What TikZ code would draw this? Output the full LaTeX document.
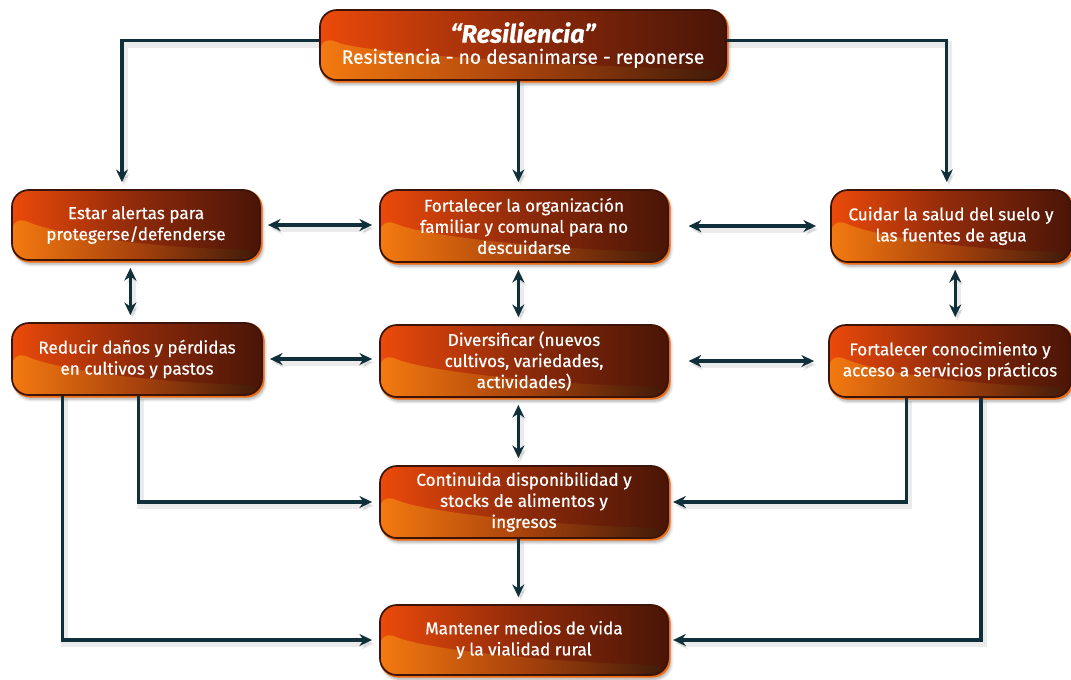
\documentclass[tikz,border=0pt]{standalone}
\usepackage{fontspec}
\setmainfont{Fira Sans}[FakeBold=0.5]
\usetikzlibrary{arrows.meta,shadows.blur}

\definecolor{boxleft}{HTML}{EC4A0A}
\definecolor{boxmid}{HTML}{8E2A0A}
\definecolor{boxright}{HTML}{4A1507}
\definecolor{waveleft}{HTML}{F47A10}
\definecolor{wavemid}{HTML}{A8420C}
\definecolor{waveright}{HTML}{3E1A09}
\definecolor{rimdark}{HTML}{3A1408}
\definecolor{rimorange}{HTML}{F26C12}
\definecolor{linecol}{HTML}{0F2F3B}

\tikzset{
    box/.style={rounded corners=12pt, minimum height=1.8cm, align=center, text=white,
        font=\fontsize{12.2}{15}\selectfont,
        left color=boxleft, right color=boxright, middle color=boxmid,
        draw=rimdark, line width=1.2pt,
        blur shadow={shadow xshift=2pt, shadow yshift=-3pt, shadow opacity=35, shadow blur steps=6},
        preaction={draw=rimorange, line width=2pt, transform canvas={shift={(0.8pt,-0.8pt)}}},
        path picture={
            \shade[left color=waveleft, right color=waveright, middle color=wavemid]
                ([yshift=1.13cm]path picture bounding box.south west)
                .. controls ([xshift=1.2cm,yshift=0.6cm]path picture bounding box.south west)
                and ([xshift=-2.5cm,yshift=0.3cm]path picture bounding box.south east)
                .. ([yshift=0.25cm]path picture bounding box.south east)
                -- (path picture bounding box.south east)
                -- (path picture bounding box.south west) -- cycle;
        }},
    conn/.style={draw=linecol, line width=2.3pt, -{Stealth[length=9pt,width=8.5pt]},
        preaction={draw=black, opacity=0.08, line width=5pt, transform canvas={shift={(1.5pt,-2.5pt)}}}},
    both/.style={conn, {Stealth[length=9pt,width=8.5pt]}-{Stealth[length=9pt,width=8.5pt]},
        shorten <=5pt, shorten >=5pt},
}

\begin{document}
\begin{tikzpicture}[x=0.025cm, y=-0.025cm]
    \useasboundingbox (0,0) rectangle (1071,679);

    % Top
    \node[box, minimum width=10.15cm, minimum height=1.75cm] (top) at (523,45)
        {{\fontsize{18}{19}\selectfont\bfseries\itshape “Resiliencia”}\\
         {\fontsize{13.7}{16}\selectfont Resistencia - no desanimarse - reponerse}};

    % Row 1
    \node[box, minimum width=6.2cm, minimum height=1.75cm] (est) at (136,225)
        {Estar alertas para\\protegerse/defenderse};
    \node[box, minimum width=7.2cm] (fort) at (524,226)
        {Fortalecer la organización\\familiar y comunal para no\\descuidarse};
    \node[box, minimum width=6.0cm] (cui) at (951,226)
        {Cuidar la salud del suelo y\\las fuentes de agua};

    % Row 2
    \node[box, minimum width=6.25cm] (red) at (137,359)
        {Reducir daños y pérdidas\\en cultivos y pastos};
    \node[box, minimum width=7.2cm] (div) at (524,361)
        {Diversificar (nuevos\\cultivos, variedades,\\actividades)};
    \node[box, minimum width=6.05cm] (con) at (950,361)
        {Fortalecer conocimiento y\\acceso a servicios prácticos};

    % Bottom
    \node[box, minimum width=7.2cm] (cont) at (524,502)
        {Continuida disponibilidad y\\stocks de alimentos y\\ingresos};
    \node[box, minimum width=7.2cm, minimum height=1.75cm] (man) at (524,640)
        {Mantener medios de vida\\y la vialidad rural};

    % From the top
    \draw[conn, shorten >=5pt] ([yshift=3pt]top.west) -| ([xshift=-10pt]est.north);
    \draw[conn, shorten >=5pt] ([yshift=3pt]top.east) -| ([xshift=-3pt]cui.north);
    \draw[conn, shorten >=5pt] ([xshift=-4pt]fort.north |- top.south) -- ([xshift=-4pt]fort.north);

    % Both ways
    \draw[both] (est.east) -- (est.east -| fort.west);
    \draw[both, shorten <=14pt, shorten >=10pt] (fort.east) -- (fort.east -| cui.west);
    \draw[both] ([xshift=-4pt]est.south) -- ([xshift=-4pt]est.south |- red.north);
    \draw[both] ([xshift=-4pt]fort.south) -- ([xshift=-4pt]fort.south |- div.north);
    \draw[both] ([xshift=3pt]cui.south) -- ([xshift=3pt]cui.south |- con.north);
    \draw[both] (red.east) -- (red.east -| div.west);
    \draw[both, shorten <=14pt, shorten >=10pt] (div.east) -- (div.east -| con.west);
    \draw[both] ([xshift=-4pt]div.south) -- ([xshift=-4pt]div.south |- cont.north);

    % Down to the bottom
    \draw[conn, shorten >=5pt] ([xshift=-4pt]cont.south) -- ([xshift=-4pt]man.north);
    \draw[conn, shorten >=5pt] ([xshift=1pt]red.south) |- (cont.west);
    \draw[conn, shorten >=5pt] ([xshift=-53pt]red.south) |- (man.west);
    \draw[conn, shorten >=3pt] ([xshift=-31pt]con.south) |- (cont.east);
    \draw[conn, shorten >=3pt] ([xshift=22pt]con.south) |- (man.east);
\end{tikzpicture}
\end{document}
